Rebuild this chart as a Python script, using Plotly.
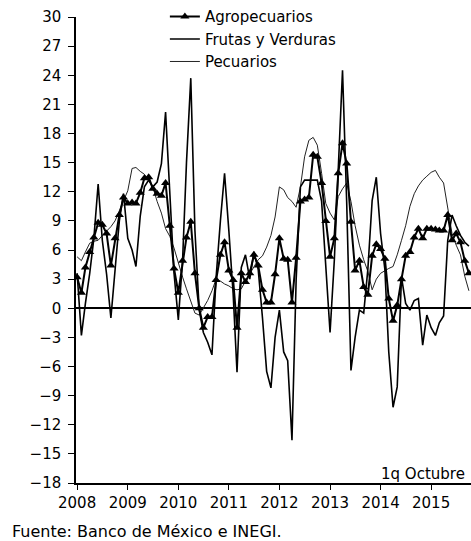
import pandas as pd
import plotly.graph_objects as go

meses = pd.date_range("2008-01-01", periods=94, freq="MS")

agropecuarios = [
    3.2, 1.6, 4.2, 5.8, 7.3, 8.8, 8.6, 7.7, 4.4, 7.2, 9.6, 11.4,
    10.8, 10.9, 10.8, 11.9, 13.4, 13.5, 12.3, 11.8, 11.6, 12.9, 8.5, 4.1,
    1.6, 4.9, 7.3, 8.9, 3.6, 0.0, -2.0, -0.9, -0.9, 2.9, 5.5, 6.8,
    3.9, 2.9, -2.0, 3.6, 2.7, 3.6, 5.5, 4.4, 1.9, 0.6, 0.6, 3.5,
    7.2, 5.1, 5.0, 0.6, 5.2, 11.0, 11.2, 11.4, 15.8, 15.6, 12.9, 9.0,
    5.3, 7.2, 13.9, 17.0, 14.9, 8.9, 3.9, 4.9, 2.2, 1.4, 5.4, 6.6,
    6.1, 5.1, 1.0, -1.3, 0.3, 3.0, 5.4, 5.8, 7.3, 8.2, 7.2, 8.2,
    8.2, 8.1, 8.0, 8.0, 9.6, 7.0, 7.7, 6.8, 4.9, 3.6,
]

frutas_verduras = [
    3.6, -2.8, 0.5, 3.6, 7.2, 12.8, 7.0, 3.5, -1.0, 4.0, 9.0, 11.8,
    7.2, 6.0, 4.3, 9.5, 12.5, 13.2, 12.5, 13.0, 14.9, 20.2, 12.0, 3.6,
    -1.2, 5.0, 15.0, 23.7, 8.0, -0.2, -2.5, -3.5, -4.8, 3.2, 9.0, 13.9,
    8.0, 1.5, -6.6, 4.2, 5.5, 3.0, 5.8, 4.0, -1.0, -6.5, -8.2, -3.0,
    -0.2, -4.5, -5.4, -13.6, 2.9, 12.5, 13.2, 13.2, 13.2, 13.2, 11.0, 4.0,
    -2.5, 5.0, 14.5, 24.5, 11.0, -6.4, -3.0, -0.2, -0.5, 4.0, 11.1, 13.5,
    7.7, 4.0, -4.5, -10.2, -8.1, 3.2, 0.5, -0.2, 0.8, 1.0, -3.8, -0.7,
    -2.0, -2.8, -1.5, -0.8, 7.0, 9.6, 8.5, 7.5, 6.8, 6.4,
]

pecuarios = [
    5.3, 4.9, 5.8, 6.7, 6.9, 7.0, 7.5, 7.9, 8.4, 9.0, 10.0, 11.0,
    12.1, 14.4, 14.5, 14.1, 13.8, 13.2, 12.5, 11.0, 9.8, 8.2, 7.4, 6.2,
    4.6, 3.2, 2.0, 0.7, -0.5, -0.7, 0.0, 0.8, 1.8, 3.0, 2.8, 2.5,
    2.3, 2.0, 1.9, 2.0, 2.8, 3.5, 4.3, 5.0, 5.4, 6.3, 7.5, 9.4,
    12.5, 12.2, 11.4, 11.0, 10.4, 12.5, 15.6, 17.3, 17.6, 16.8, 13.9, 10.8,
    9.8, 9.1, 11.5, 12.3, 12.9, 11.0, 8.5, 6.5, 5.0, 3.8, 1.9, 3.0,
    3.6, 3.9, 4.1, 4.3, 5.5, 7.0, 8.5, 10.5, 11.8, 12.6, 13.2, 13.6,
    14.0, 14.2, 13.5, 12.9, 10.5, 7.7, 6.5, 5.5, 3.3, 1.8,
]

anios = ["2008", "2009", "2010", "2011", "2012", "2013", "2014", "2015"]
y_ticks = list(range(-18, 31, 3))

FONT = "DejaVu Sans"

fig = go.Figure()
fig.add_trace(go.Scatter(
    x=meses, y=pecuarios, name="Pecuarios", mode="lines",
    line=dict(color="#222222", width=1), legendrank=3,
))
fig.add_trace(go.Scatter(
    x=meses, y=frutas_verduras, name="Frutas y Verduras", mode="lines",
    line=dict(color="black", width=1.6), legendrank=2,
))
fig.add_trace(go.Scatter(
    x=meses, y=agropecuarios, name="Agropecuarios", mode="lines+markers",
    line=dict(color="black", width=2),
    marker=dict(symbol="triangle-up", size=8, color="black"), legendrank=1,
))

fig.update_layout(
    width=471, height=541,
    margin=dict(l=76, r=0, t=17, b=58),
    paper_bgcolor="white", plot_bgcolor="white",
    font=dict(family=FONT, size=15, color="black"),
    showlegend=True,
    legend=dict(
        x=0.225, y=1.036, xanchor="left", yanchor="top",
        bgcolor="rgba(0,0,0,0)", font=dict(family=FONT, size=15, color="black"),
        tracegroupgap=0, itemwidth=30,
    ),
    xaxis=dict(
        type="date",
        range=["2007-12-24", "2015-10-16"],
        tickvals=[f"{a}-01-01" for a in anios], ticktext=anios,
        ticks="outside", ticklen=5, tickcolor="black", tickwidth=1,
        showline=True, linecolor="black", linewidth=1.5,
        showgrid=False, zeroline=False,
        tickfont=dict(family=FONT, size=15, color="black"),
    ),
    yaxis=dict(
        range=[-18, 30], tickvals=y_ticks,
        ticks="outside", ticklen=6, tickcolor="black", tickwidth=1,
        showline=True, linecolor="black", linewidth=1.5,
        showgrid=False, zeroline=True, zerolinecolor="black", zerolinewidth=2,
        tickfont=dict(family=FONT, size=15, color="black"),
        ticklabelstandoff=4,
    ),
    annotations=[
        dict(text="1q Octubre", xref="paper", yref="paper", x=0.99, y=0.019,
             xanchor="right", yanchor="middle", showarrow=False,
             font=dict(family=FONT, size=15, color="black")),
        dict(text="Fuente: Banco de México e INEGI.", xref="paper", yref="paper",
             x=-0.167, y=-0.105, xanchor="left", yanchor="middle", showarrow=False,
             font=dict(family=FONT, size=16, color="black")),
    ],
)

fig.write_html(
    "out.html",
    config={"displayModeBar": False},
    post_script="document.body.style.margin='0';document.body.style.overflow='hidden';",
)
